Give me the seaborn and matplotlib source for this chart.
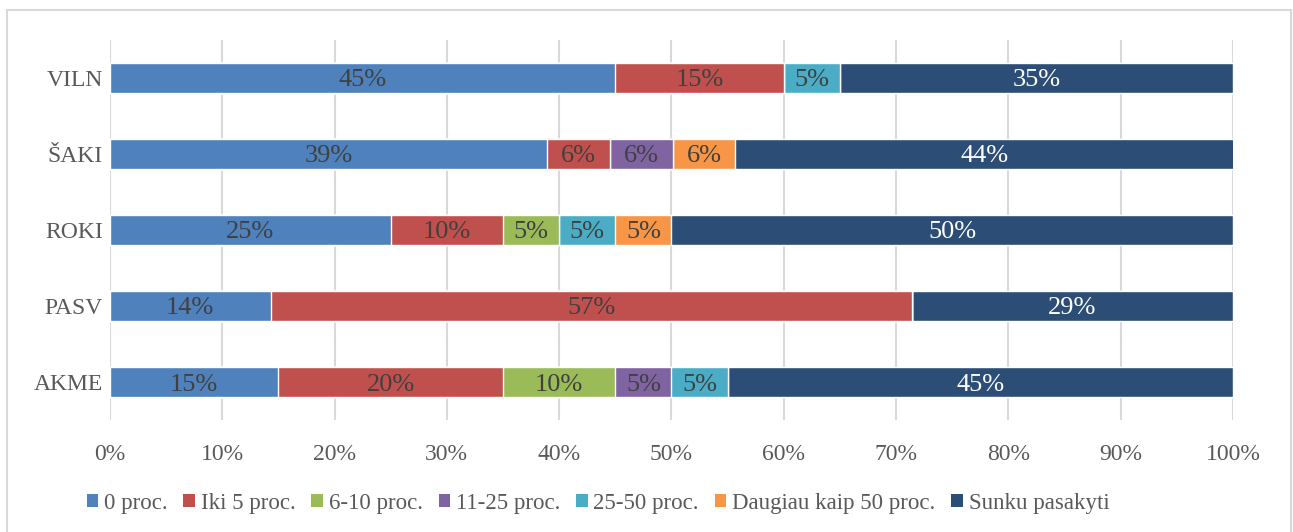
import numpy as np
import pandas as pd
import matplotlib
matplotlib.use('Agg')
from matplotlib import pyplot as plt
from matplotlib.patches import Rectangle, Patch
import seaborn as sns

# data (percent of answers per school)
schools = ['VILN', 'ŠAKI', 'ROKI', 'PASV', 'AKME']
groups = ['0 proc.', 'Iki 5 proc.', '6-10 proc.', '11-25 proc.', '25-50 proc.',
          'Daugiau kaip 50 proc.', 'Sunku pasakyti']
p0 = [45, 38.9, 25, 14.3, 15]
p5 = [15, 5.6, 10, 57.1, 20]
p6_10 = [0, 0, 5, 0, 10]
p11_25 = [0, 5.6, 0, 0, 5]
p25_50 = [5, 0, 5, 0, 5]
p50 = [0, 5.6, 5, 0, 0]
unknown = [35, 44.4, 50, 28.6, 45]
colors = ['#4F81BD', '#C0504D', '#9BBB59', '#8064A2', '#4BACC6', '#F79646', '#2C4D75']

df = pd.DataFrame(dict(zip(groups, [p0, p5, p6_10, p11_25, p25_50, p50, unknown])), index=schools)
cum = df.cumsum(axis=1)

sns.set_theme(style='white')
plt.rcParams['font.family'] = ['Liberation Serif', 'DejaVu Serif']

fig, ax = plt.subplots(figsize=(12.93, 5.32), dpi=100)
fig.subplots_adjust(left=0.085, right=0.9536, top=0.925, bottom=0.2105)

# stacked bars: draw cumulative totals from the last group to the first
for g, c in reversed(list(zip(groups, colors))):
    long = pd.DataFrame({'school': schools, 'value': cum[g].values})
    sns.barplot(data=long, x='value', y='school', color=c, width=0.4,
                saturation=1, ax=ax, zorder=3, orient='h')

# labels in the middle of each segment
for i, s in enumerate(schools):
    for g in groups:
        v = df.loc[s, g]
        if v <= 0:
            continue
        x = cum.loc[s, g] - v / 2
        tc = 'white' if g == 'Sunku pasakyti' else '#404040'
        ax.text(x, i, f'{v:.0f}%', ha='center', va='center_baseline', fontsize=19, color=tc, zorder=4)

ax.set_xlim(0, 100)
ax.set_ylim(4.5, -0.5)
ax.set_xticks(np.arange(0, 101, 10))
ax.set_xticklabels([f'{t}%' for t in range(0, 101, 10)])
ax.set_xlabel('')
ax.set_ylabel('')
ax.grid(axis='x', color='#D9D9D9', linewidth=1.5, zorder=0)
ax.set_axisbelow(True)
for sp in ax.spines.values():
    sp.set_visible(False)
ax.tick_params(axis='both', length=0, labelsize=17, colors='#595959', pad=17)
ax.tick_params(axis='y', pad=5)

handles = [Patch(facecolor=c, edgecolor='none') for c in colors]
fig.legend(handles, groups, loc='center left', bbox_to_anchor=(66 / 1293, 0.054), ncol=7, frameon=False,
           fontsize=16.5, handlelength=0.5, handleheight=0.5, handletextpad=0.25, columnspacing=0.7,
           labelcolor='#595959')

fig.patches.append(Rectangle((7 / 1293, -0.05), 1284 / 1293, 1.05 - 10 / 532, transform=fig.transFigure,
                             fill=False, edgecolor='#D9D9D9', linewidth=1.5))

fig.savefig('out.png', dpi=100)
